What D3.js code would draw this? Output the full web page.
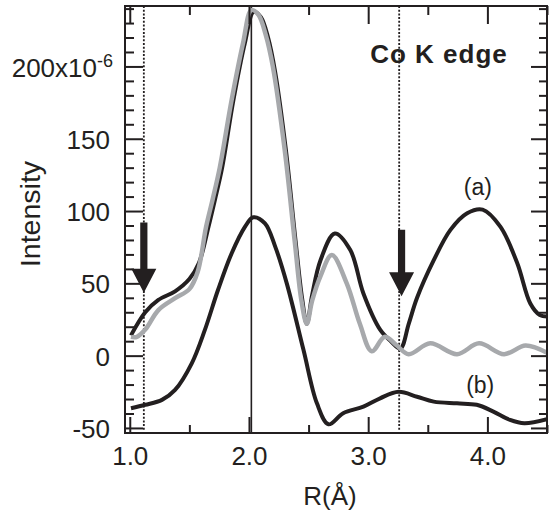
<!DOCTYPE html>
<html>
<head>
<meta charset="utf-8">
<script src="https://cdn.jsdelivr.net/npm/d3@7"></script>
<style>
  body { margin: 0; background: #fff; }
  svg text { font-family: "Liberation Sans", Arial, Helvetica, sans-serif; fill: #231f20; }
</style>
</head>
<body>
<div id="chart"></div>
<script>
// curve (a), black
const aR = [1.01, 1.13, 1.24, 1.38, 1.50, 1.58, 1.66, 1.715, 1.775, 1.87, 1.965, 2.04, 2.10, 2.16, 2.22, 2.31, 2.39, 2.445, 2.485, 2.53, 2.60, 2.72, 2.85, 2.96, 3.10, 3.19, 3.27, 3.34, 3.41, 3.55, 3.69, 3.83, 3.96, 4.11, 4.25, 4.36, 4.44, 4.50];
const aV = [14, 30, 38.5, 44.5, 53, 64, 89, 108, 130, 177, 216, 238, 234, 220, 196, 142, 80, 40, 22, 42, 66, 84.5, 73, 43, 18, 10, 5, 22, 40, 66, 87, 98.5, 101, 89, 64, 36, 28, 27];

// grey curve
const gR = [1.01, 1.06, 1.13, 1.24, 1.38, 1.50, 1.57, 1.64, 1.695, 1.755, 1.855, 1.95, 2.02, 2.08, 2.14, 2.20, 2.30, 2.385, 2.44, 2.485, 2.53, 2.60, 2.695, 2.82, 2.93, 3.03, 3.14, 3.24, 3.34, 3.52, 3.745, 3.93, 4.14, 4.32, 4.50];
const gV = [13, 13, 18, 31.5, 39.7, 46, 58, 89, 108, 130, 177, 216, 239, 235.6, 222, 200, 142, 78, 38, 22, 38, 55, 69.6, 50, 22, 3, 13, 7, 1, 8.5, 1, 8.5, 1, 7, 2];

// curve (b), black
const bR = [1.01, 1.13, 1.27, 1.38, 1.52, 1.63, 1.74, 1.855, 1.966, 2.036, 2.134, 2.22, 2.317, 2.457, 2.57, 2.667, 2.79, 2.96, 3.10, 3.255, 3.41, 3.55, 3.745, 3.91, 4.05, 4.19, 4.31, 4.50];
const bV = [-36.4, -34, -30.6, -23.7, -5.3, 17.8, 45.4, 70.8, 89, 95.7, 91.5, 75.4, 50, 4, -33, -47.5, -39.8, -35.3, -29.5, -25, -28.4, -31.8, -33, -34, -38.7, -44.5, -46.8, -44];

const xMajor = [1.0, 2.0, 3.0, 4.0];
const xMinor = [1.5, 2.5, 3.5, 4.5];
const yMajor = [-50, 0, 50, 100, 150, 200];
const yMinor = d3.range(-40, 241, 10).filter(v => v % 50 !== 0);

const dottedR = [1.118, 3.26];
const solidR = 2.02;
const arrowR = [1.118, 3.28];
const arrowTop = [92, 87];
const arrowTip = [43.5, 41];

const width = 552, height = 515;
const margin = { top: 6, right: 5, bottom: 82, left: 125 };
const ink = '#231f20';

const svg = d3.select('#chart')
  .append('svg')
  .attr('width', width)
  .attr('height', height);

const x = d3.scaleLinear().domain([0.96, 4.5]).range([margin.left, width - margin.right]);
const y = d3.scaleLinear().domain([-53.5, 241.8]).range([height - margin.bottom, margin.top]);

const line = d3.line()
  .x(d => x(d[0]))
  .y(d => y(d[1]))
  .curve(d3.curveCatmullRom.alpha(0.5));

const plot = svg.append('g');

plot.append('clipPath').attr('id', 'clip')
  .append('rect')
  .attr('x', x.range()[0]).attr('y', y.range()[1])
  .attr('width', x.range()[1] - x.range()[0])
  .attr('height', y.range()[0] - y.range()[1]);

// reference lines
plot.selectAll('.dotted')
  .data(dottedR)
  .join('line')
  .attr('x1', d => x(d)).attr('x2', d => x(d))
  .attr('y1', y.range()[1]).attr('y2', y(-51.5))
  .attr('stroke', ink)
  .attr('stroke-width', 1.8)
  .attr('stroke-dasharray', '2,1.7');

plot.append('line')
  .attr('x1', x(solidR)).attr('x2', x(solidR))
  .attr('y1', y.range()[1]).attr('y2', y.range()[0])
  .attr('stroke', ink)
  .attr('stroke-width', 1.6);

const curves = plot.append('g').attr('clip-path', 'url(#clip)');

curves.append('path')
  .datum(d3.zip(aR, aV))
  .attr('d', line)
  .attr('fill', 'none')
  .attr('stroke', ink)
  .attr('stroke-width', 4);

curves.append('path')
  .datum(d3.zip(gR, gV))
  .attr('d', line)
  .attr('fill', 'none')
  .attr('stroke', '#a7a9ac')
  .attr('stroke-width', 4.5);

curves.append('path')
  .datum(d3.zip(bR, bV))
  .attr('d', line)
  .attr('fill', 'none')
  .attr('stroke', ink)
  .attr('stroke-width', 4);

// arrows
const headH = 24, headW = 12.5, shaftW = 3.6;
plot.selectAll('.arrow')
  .data(d3.zip(arrowR, arrowTop, arrowTip))
  .join('path')
  .attr('fill', ink)
  .attr('d', ([r, top, tip]) => {
    const cx = x(r), y0 = y(top), y1 = y(tip), yh = y1 - headH;
    return `M${cx - shaftW},${y0}H${cx + shaftW}V${yh}H${cx + headW}L${cx},${y1}L${cx - headW},${yh}H${cx - shaftW}Z`;
  });

// frame and ticks
const axes = svg.append('g');

function styleAxis(g) {
  g.select('.domain').remove();
  g.selectAll('line').attr('stroke', ink).attr('stroke-width', 2);
  g.selectAll('text').attr('font-size', 26).attr('fill', ink);
}

axes.append('g')
  .attr('transform', `translate(${margin.left},0)`)
  .call(d3.axisLeft(y).tickValues(yMajor).tickSize(-18).tickPadding(15).tickFormat(d => String(d)))
  .call(styleAxis)
  .call(g => g.selectAll('.tick text').attr('dy', '0.37em'))
  .call(g => g.selectAll('.tick text')
    .filter(d => d === 200)
    .text(null)
    .attr('x', -12)
    .call(t => {
      t.append('tspan').text('200x10');
      t.append('tspan').attr('dy', '-0.55em').attr('font-size', 18).text('-6');
    }));

axes.append('g')
  .attr('transform', `translate(${margin.left},0)`)
  .call(d3.axisLeft(y).tickValues(yMinor).tickSize(-9).tickFormat(''))
  .call(styleAxis);

axes.append('g')
  .attr('transform', `translate(${width - margin.right},0)`)
  .call(d3.axisRight(y).tickValues(yMajor).tickSize(-16).tickFormat(''))
  .call(styleAxis);

axes.append('g')
  .attr('transform', `translate(${width - margin.right},0)`)
  .call(d3.axisRight(y).tickValues(yMinor).tickSize(-8).tickFormat(''))
  .call(styleAxis);

axes.append('g')
  .attr('transform', `translate(0,${height - margin.bottom})`)
  .call(d3.axisBottom(x).tickValues(xMajor).tickSize(-16).tickPadding(14).tickFormat(d3.format('.1f')))
  .call(styleAxis);

axes.append('g')
  .attr('transform', `translate(0,${height - margin.bottom})`)
  .call(d3.axisBottom(x).tickValues(xMinor).tickSize(-8).tickFormat(''))
  .call(styleAxis);

axes.append('g')
  .attr('transform', `translate(0,${margin.top})`)
  .call(d3.axisTop(x).tickValues(xMajor).tickSize(-18).tickFormat(''))
  .call(styleAxis);

axes.append('g')
  .attr('transform', `translate(0,${margin.top})`)
  .call(d3.axisTop(x).tickValues(xMinor).tickSize(-9).tickFormat(''))
  .call(styleAxis);

axes.append('rect')
  .attr('x', x.range()[0]).attr('y', y.range()[1])
  .attr('width', x.range()[1] - x.range()[0])
  .attr('height', y.range()[0] - y.range()[1])
  .attr('fill', 'none')
  .attr('stroke', ink)
  .attr('stroke-width', 2);

// texts
svg.append('text')
  .attr('x', x(3.017)).attr('y', y(202.4))
  .attr('font-size', 26)
  .attr('font-weight', 'bold')
  .attr('letter-spacing', 1)
  .text('Co K edge');

svg.append('text')
  .attr('x', x(3.92)).attr('y', y(111))
  .attr('text-anchor', 'middle')
  .attr('font-size', 23)
  .text('(a)');

svg.append('text')
  .attr('x', x(3.94)).attr('y', y(-25.8))
  .attr('text-anchor', 'middle')
  .attr('font-size', 23)
  .text('(b)');

svg.append('text')
  .attr('x', 330).attr('y', 505)
  .attr('text-anchor', 'middle')
  .attr('font-size', 26)
  .text('R(Å)');

svg.append('text')
  .attr('transform', 'translate(40,214) rotate(-90)')
  .attr('text-anchor', 'middle')
  .attr('font-size', 28.5)
  .text('Intensity');
</script>
</body>
</html>
